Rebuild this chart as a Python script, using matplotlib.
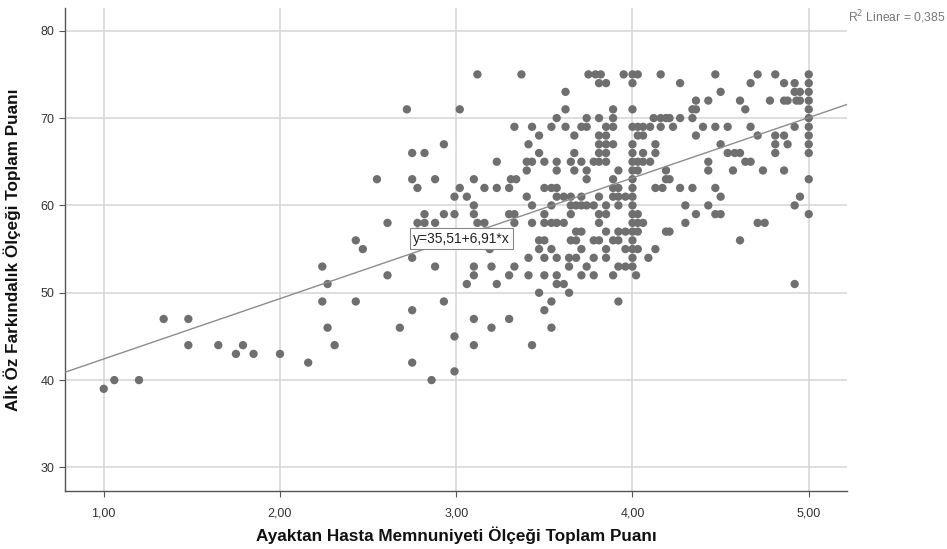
import matplotlib
matplotlib.use("Agg")
import matplotlib.pyplot as plt
import numpy as np

# points grouped by score on the y axis: {y: [x values]}
rows = {
    75: [3.12, 3.37, 3.75, 3.79, 3.82, 3.95, 4.00, 4.03, 4.16, 4.47, 4.71, 4.81, 5.00],
    74: [3.81, 3.85, 4.00, 4.27, 4.67, 4.86, 4.92, 5.00],
    73: [3.62, 4.50, 4.92, 4.95, 5.00],
    72: [4.36, 4.43, 4.61, 4.78, 4.86, 4.88, 4.93, 4.95, 5.00],
    71: [2.72, 3.02, 3.62, 3.89, 4.00, 4.34, 4.36, 4.64, 5.00],
    70: [3.57, 3.74, 3.81, 3.89, 4.12, 4.16, 4.19, 4.21, 4.27, 4.34, 5.00],
    69: [3.33, 3.43, 3.54, 3.62, 3.71, 3.74, 3.85, 3.89, 4.00, 4.03, 4.06, 4.10,
         4.16, 4.23, 4.40, 4.47, 4.54, 4.67, 4.92, 5.00],
    68: [3.47, 3.67, 3.81, 3.85, 4.03, 4.06, 4.36, 4.71, 4.81, 4.86, 5.00],
    67: [2.93, 3.41, 3.81, 3.85, 3.89, 4.00, 4.13, 4.50, 4.81, 4.88, 5.00],
    66: [2.75, 2.82, 3.47, 3.67, 3.81, 3.85, 4.00, 4.06, 4.13, 4.54, 4.58, 4.61,
         4.81, 5.00],
    65: [3.23, 3.40, 3.43, 3.50, 3.57, 3.65, 3.71, 3.78, 3.81, 3.85, 4.00, 4.03,
         4.06, 4.10, 4.43, 4.64, 4.67],
    64: [3.40, 3.57, 3.67, 3.74, 3.92, 4.00, 4.03, 4.19, 4.43, 4.57, 4.74, 4.86],
    63: [2.55, 2.75, 2.88, 3.10, 3.31, 3.34, 3.74, 3.89, 4.00, 4.19, 4.21, 5.00],
    62: [2.78, 3.02, 3.16, 3.23, 3.30, 3.50, 3.54, 3.57, 3.89, 3.92, 4.00, 4.13,
         4.17, 4.27, 4.34, 4.47],
    61: [2.99, 3.06, 3.40, 3.57, 3.61, 3.65, 3.71, 3.81, 3.89, 3.92, 3.96, 4.00,
         4.50, 4.95],
    60: [3.10, 3.43, 3.54, 3.65, 3.68, 3.71, 3.74, 3.78, 3.85, 3.92, 4.00, 4.30,
         4.43, 4.92],
    59: [2.82, 2.93, 2.99, 3.10, 3.30, 3.33, 3.50, 3.65, 3.81, 3.85, 4.00, 4.03,
         4.36, 4.47, 4.50, 5.00],
    58: [2.61, 2.78, 2.82, 2.88, 3.12, 3.16, 3.33, 3.43, 3.50, 3.54, 3.57, 3.61,
         3.81, 4.00, 4.03, 4.06, 4.30, 4.71, 4.75],
    57: [2.78, 3.16, 3.68, 3.71, 3.85, 3.92, 3.96, 4.00, 4.03, 4.19, 4.21],
    56: [2.43, 3.00, 3.47, 3.50, 3.65, 3.68, 3.78, 3.81, 3.89, 3.92, 4.00, 4.61],
    55: [2.47, 3.19, 3.47, 3.54, 3.71, 3.85, 3.96, 4.00, 4.03, 4.13],
    54: [2.75, 3.41, 3.50, 3.57, 3.64, 3.68, 3.78, 3.85, 4.00, 4.09],
    53: [2.24, 2.88, 3.10, 3.20, 3.33, 3.64, 3.74, 3.92, 3.96, 4.00],
    52: [2.61, 3.10, 3.30, 3.41, 3.50, 3.57, 3.71, 3.78, 3.89, 4.02],
    51: [2.27, 3.06, 3.23, 3.57, 3.61, 4.92],
    50: [3.47, 3.64],
    49: [2.24, 2.43, 2.93, 3.54, 3.92],
    48: [2.75, 3.50],
    47: [1.34, 1.48, 3.10, 3.30],
    46: [2.27, 2.68, 3.20, 3.54],
    45: [2.99],
    44: [1.48, 1.65, 1.79, 2.31, 3.10, 3.43],
    43: [1.75, 1.85, 2.00],
    42: [2.16, 2.75],
    41: [2.99],
    40: [1.06, 1.20, 2.86],
    39: [1.00],
}

intercept = 35.51
slope = 6.91
r2 = 0.385

x_ticks = [1, 2, 3, 4, 5]
x_tick_labels = ["1,00", "2,00", "3,00", "4,00", "5,00"]
y_ticks = [30, 40, 50, 60, 70, 80]

xs = np.array([x for y, row in rows.items() for x in row])
ys = np.array([y for y, row in rows.items() for x in row])

plt.rcParams['font.family'] = ['Liberation Sans', 'DejaVu Sans']

fig = plt.figure(figsize=(9.47, 5.49), dpi=100)
ax = fig.add_axes([0.0686, 0.1056, 0.8258, 0.8798])

ax.set_xlim(0.78, 5.217)
ax.set_ylim(27.3, 82.6)
ax.set_xticks(x_ticks)
ax.set_xticklabels(x_tick_labels)
ax.set_yticks(y_ticks)
ax.grid(True, color="#d4d4d4", linewidth=1.1)
ax.set_axisbelow(True)

for s in ["top", "right"]:
    ax.spines[s].set_visible(False)
for s in ["left", "bottom"]:
    ax.spines[s].set_color("#555555")
    ax.spines[s].set_linewidth(1.0)
ax.tick_params(colors="#555555", labelcolor="#333333", labelsize=9,
               length=4, width=0.8)
ax.tick_params(axis="x", pad=8)

ax.scatter(xs, ys, s=36, color="#6f6f6f", edgecolors="none", zorder=3)

lx = np.array(ax.get_xlim())
ax.plot(lx, intercept + slope * lx, color="#8c8c8c", linewidth=1.0, zorder=4)

ax.text(3.03, 56.2, "y=35,51+6,91*x", fontsize=10, color="#222222",
        ha="center", va="center", zorder=5,
        bbox=dict(boxstyle="square,pad=0.25", facecolor="white",
                  edgecolor="#888888", linewidth=0.8))

fig.text(0.895, 0.968, "R$^2$ Linear = 0,385", fontsize=8.7, color="#777777",
         ha="left", va="center")

ax.set_xlabel("Ayaktan Hasta Memnuniyeti Ölçeği Toplam Puanı", fontsize=12.3,
              fontweight="bold", color="#111111", labelpad=5)
ax.set_ylabel("Aİk Öz Farkındalık Ölçeği Toplam Puanı", fontsize=12.3,
              fontweight="bold", color="#111111", labelpad=14)

fig.savefig("out.png", dpi=100)
